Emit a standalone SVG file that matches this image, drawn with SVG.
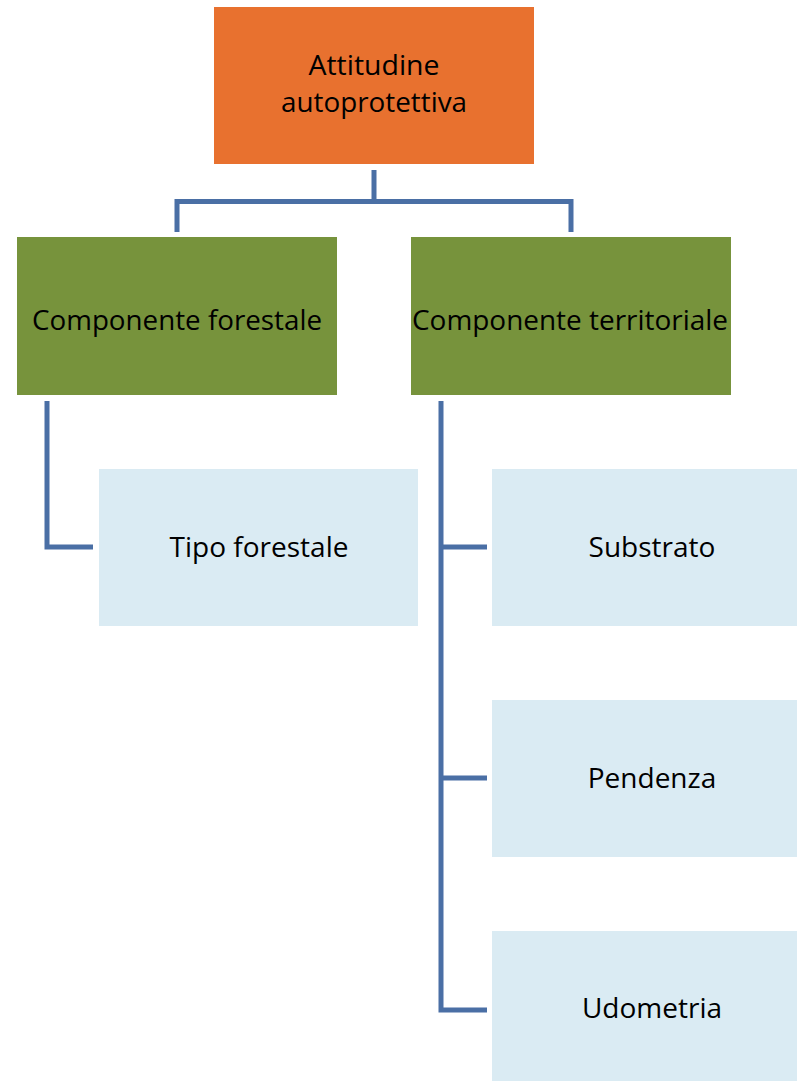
<svg xmlns="http://www.w3.org/2000/svg" width="797" height="1081" viewBox="0 0 797 1081">
<style>
.lbl{font-family:"Open Sans","Noto Sans","Liberation Sans",sans-serif;font-size:28px;fill:#000;text-anchor:middle}
.rl{font-size:27px}
.conn{fill:none;stroke:#4A6FA5;stroke-width:5;stroke-linejoin:miter;stroke-linecap:butt}
.root{fill:#E8712F}
.mid{fill:#77933C}
.leaf{fill:#DAEBF3}
</style>
<rect width="797" height="1081" fill="#fff"/>
<g id="connectors">
<path class="conn" d="M374 170 V201.5 M177 232 V201.5 H571 V232"/>
<path class="conn" d="M47 401 V547 H93"/>
<path class="conn" d="M441 401 V1010 H487 M441 547 H487 M441 778 H487"/>
</g>
<g id="root">
<rect class="root" x="214" y="7" width="320" height="157"/>
<text class="lbl rl" x="374" y="75" textLength="131" lengthAdjust="spacingAndGlyphs">Attitudine</text>
<text class="lbl rl" x="374" y="112" textLength="186" lengthAdjust="spacingAndGlyphs">autoprotettiva</text>
</g>
<g id="forestale">
<rect class="mid" x="17" y="237" width="320" height="158"/>
<text class="lbl" x="177" y="330" textLength="290" lengthAdjust="spacingAndGlyphs">Componente forestale</text>
</g>
<g id="territoriale">
<rect class="mid" x="411" y="237" width="320" height="158"/>
<text class="lbl" x="570" y="330" textLength="316" lengthAdjust="spacingAndGlyphs">Componente territoriale</text>
</g>
<g id="tipo">
<rect class="leaf" x="99" y="469" width="319" height="157"/>
<text class="lbl" x="259" y="557">Tipo forestale</text>
</g>
<g id="substrato">
<rect class="leaf" x="492" y="469" width="320" height="157"/>
<text class="lbl" x="652" y="557">Substrato</text>
</g>
<g id="pendenza">
<rect class="leaf" x="492" y="700" width="320" height="157"/>
<text class="lbl" x="652" y="788">Pendenza</text>
</g>
<g id="udometria">
<rect class="leaf" x="492" y="931" width="320" height="157"/>
<text class="lbl" x="652" y="1018">Udometria</text>
</g>
</svg>
